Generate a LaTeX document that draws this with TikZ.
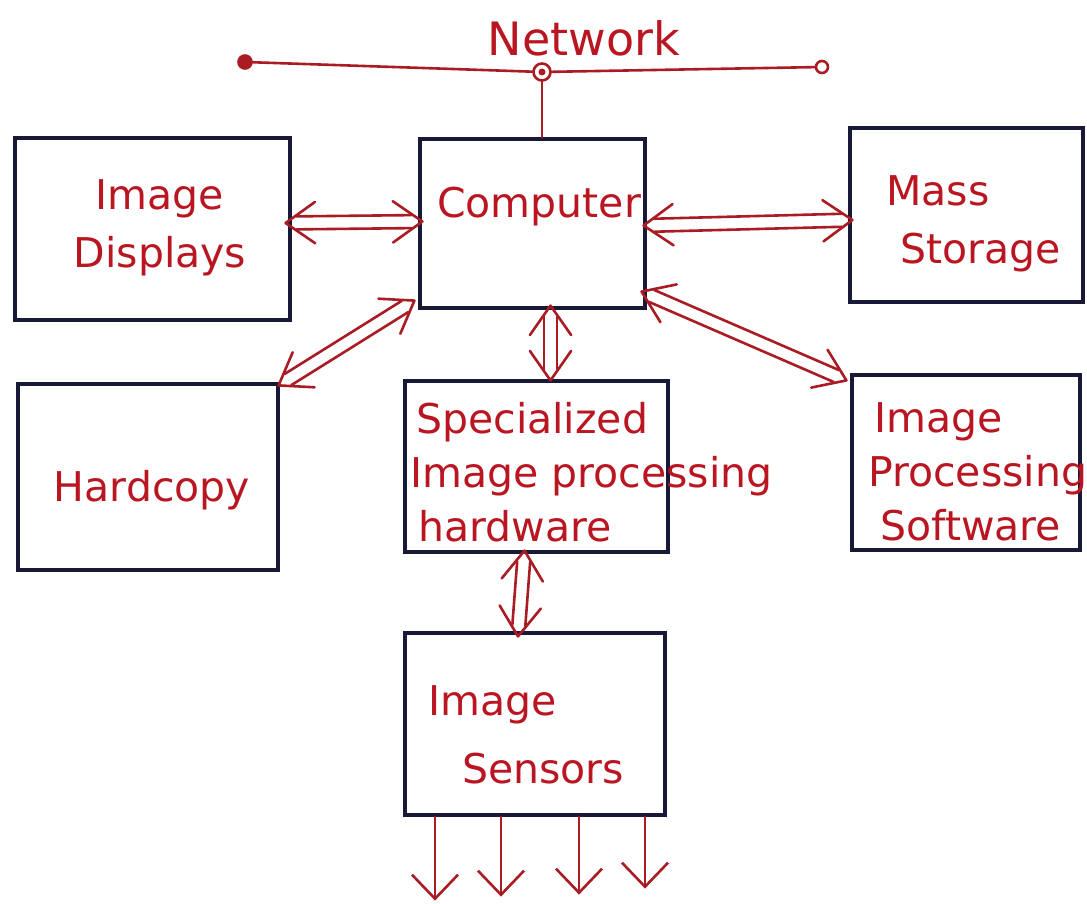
\documentclass[tikz,border=0pt]{standalone}
\usepackage{fontspec}
\setmainfont{DejaVu Sans}
\usetikzlibrary{calc,arrows.meta}
\definecolor{inkred}{RGB}{185,22,34}
\definecolor{conred}{RGB}{170,28,36}
\definecolor{inkblue}{RGB}{24,24,56}
\newcommand\dblconn[2]{%
  \draw[conn] ($(#1)!11pt!(#2)!6.5pt!90:(#2)$) -- ($(#2)!11pt!(#1)!6.5pt!-90:(#1)$);
  \draw[conn] ($(#1)!11pt!(#2)!6.5pt!-90:(#2)$) -- ($(#2)!11pt!(#1)!6.5pt!90:(#1)$);
  \draw[conn] ($(#1)!36pt!35:(#2)$) -- (#1) -- ($(#1)!36pt!-35:(#2)$);
  \draw[conn] ($(#2)!36pt!35:(#1)$) -- (#2) -- ($(#2)!36pt!-35:(#1)$);
}
\begin{document}
\begin{tikzpicture}[x=1pt,y=-1pt,
  box/.style={draw=inkblue,line width=3.2pt,inner sep=0pt,rectangle},
  conn/.style={draw=conred,line width=2.6pt,line cap=round,line join=round},
  outarrow/.style={conn,-{Straight Barb[length=24pt,width=46pt,line width=2.6pt]}},
  lbl/.style={text=inkred,font=\fontsize{41}{54}\selectfont,inner sep=0pt},
  netdot/.style={circle,draw=conred,line width=2.6pt,inner sep=0pt}]
\useasboundingbox (0,0) rectangle (1087,904);
\fill[white] (0,0) rectangle (1087,904);
% boxes
\node[box,minimum width=275pt,minimum height=182pt] (disp) at (152.5,229) {};
\node[box,minimum width=225pt,minimum height=169pt] (comp) at (532.5,223.5) {};
\node[box,minimum width=233pt,minimum height=174pt] (mass) at (966.5,215) {};
\node[box,minimum width=260pt,minimum height=186pt] (hard) at (148,477) {};
\node[box,minimum width=263pt,minimum height=171pt] (spec) at (536.5,466.5) {};
\node[box,minimum width=228pt,minimum height=175pt] (ips) at (966,462.5) {};
\node[box,minimum width=260pt,minimum height=182pt] (sens) at (535,724) {};
% texts
\node[lbl,align=center] (tdisp) at (160,228) {Image\\[4pt]Displays};
\node[lbl] (tcomp) at (539,207) {Computer};
\node[lbl,align=left,anchor=west] (tmass) at (886,224) {Mass\\[4pt]\hspace*{14pt}Storage};
\node[lbl] (thard) at (152,490) {Hardcopy};
\node[lbl,align=left,anchor=west] (tspec) at (410,472) {\hspace*{6pt}Specialized\\Image processing\\\hspace*{8pt}hardware};
\node[lbl,align=left,anchor=west] (tips) at (868,472) {\hspace*{6pt}Image\\Processing\\\hspace*{12pt}Software};
\node[lbl,align=left,anchor=west] (tsens) at (428,735) {Image\\[14pt]\hspace*{34pt}Sensors};
\node[lbl,font=\fontsize{46}{50}\selectfont] (tnet) at (584,38) {Network};
% network
\node[netdot,minimum size=13pt,fill=conred] (nl) at (245,62) {};
\node[netdot,minimum size=17pt,fill=white] (nc) at (542,72) {};
\node[netdot,minimum size=12pt,fill=white] (nr) at (822,67) {};
\draw[conn] (nl) -- (nc) -- (nr);
\draw[conn] (nc) -- (nc |- comp.north);
\fill[conred] (nc.center) circle (3.5pt);
% connector end points
\coordinate (a1) at ($(disp.east)+(-6,-6)$);
\coordinate (b1) at ($(comp.west)+(4,-2)$);
\coordinate (a2) at ($(comp.east)+(-3,2)$);
\coordinate (b2) at ($(mass.west)+(4,5)$);
\coordinate (a3) at ($(comp.south west)+(-4,-9)$);
\coordinate (b3) at ($(hard.north east)+(-1,3)$);
\coordinate (a4) at ($(comp.south)+(18,-4)$);
\coordinate (b4) at ($(spec.north)+(14,1)$);
\coordinate (a5) at ($(comp.south east)+(-5,-18)$);
\coordinate (b5) at ($(ips.north west)+(-4,7)$);
\coordinate (a6) at ($(spec.south)+(-12,-3)$);
\coordinate (b6) at ($(sens.north)+(-17,5)$);
\dblconn{a1}{b1}
\dblconn{a2}{b2}
\dblconn{a3}{b3}
\dblconn{a4}{b4}
\dblconn{a5}{b5}
\dblconn{a6}{b6}
% sensor outputs
\coordinate (o1) at ($(sens.south)+(-100,0)$);
\coordinate (o2) at ($(sens.south)+(-34,0)$);
\coordinate (o3) at ($(sens.south)+(44,0)$);
\coordinate (o4) at ($(sens.south)+(110,0)$);
\coordinate (e1) at ($(o1)+(0,84)$);
\coordinate (e2) at ($(o2)+(0,80)$);
\coordinate (e3) at ($(o3)+(0,78)$);
\coordinate (e4) at ($(o4)+(0,72)$);
\draw[outarrow] (o1) -- (e1);
\draw[outarrow] (o2) -- (e2);
\draw[outarrow] (o3) -- (e3);
\draw[outarrow] (o4) -- (e4);
\end{tikzpicture}
\end{document}
